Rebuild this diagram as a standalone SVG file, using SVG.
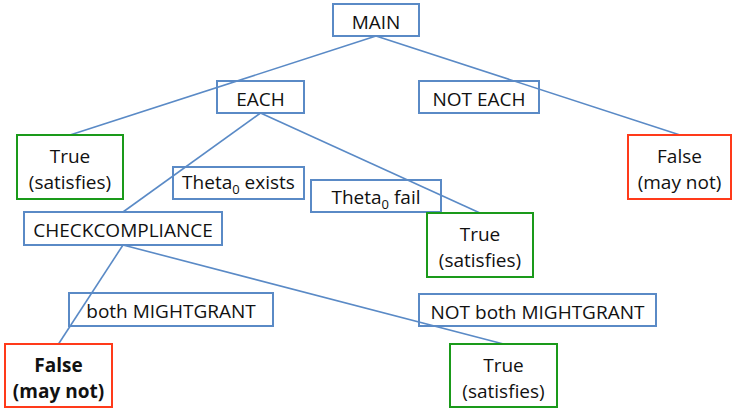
<svg xmlns="http://www.w3.org/2000/svg" width="732" height="410" viewBox="0 0 732 410">
  <style>
    .box { fill: none; stroke-width: 2; }
    .blue { stroke: #5a8ac6; }
    .green { stroke: #1a9a1a; }
    .red { stroke: #ff3a1a; }
    .edge { stroke: #5a8ac6; stroke-width: 1.6; fill: none; }
    text { font-family: "Open Sans", "Noto Sans", sans-serif; font-size: 19px; fill: #111; text-anchor: middle; }
    .bold { font-weight: bold; }
    .sub { font-size: 13px; }
  </style>
  <rect width="732" height="410" fill="#ffffff"/>

  <!-- connectors -->
  <g id="connectors">
    <line class="edge" x1="376" y1="36" x2="70" y2="135"/>
    <line class="edge" x1="376" y1="36" x2="680" y2="135"/>
    <line class="edge" x1="260.5" y1="113" x2="123" y2="212"/>
    <line class="edge" x1="260.5" y1="113" x2="480" y2="213"/>
    <line class="edge" x1="123" y1="245" x2="58.5" y2="344"/>
    <line class="edge" x1="123" y1="245" x2="503.5" y2="344"/>
  </g>

  <g id="main">
    <rect class="box blue" x="333" y="4" width="86" height="32"/>
    <text x="376" y="29">MAIN</text>
  </g>

  <g id="each">
    <rect class="box blue" x="217" y="81" width="87" height="32"/>
    <text x="260.5" y="106">EACH</text>
  </g>

  <g id="not-each">
    <rect class="box blue" x="419" y="81" width="120" height="32"/>
    <text x="479" y="106">NOT EACH</text>
  </g>

  <g id="true-each">
    <rect class="box green" x="17" y="135" width="106" height="64"/>
    <text x="70" y="163">True</text>
    <text x="70" y="189">(satisfies)</text>
  </g>

  <g id="false-not-each">
    <rect class="box red" x="628" y="135" width="103" height="64"/>
    <text x="679.5" y="163">False</text>
    <text x="679.5" y="189">(may not)</text>
  </g>

  <g id="theta-exists">
    <rect class="box blue" x="173" y="167" width="131" height="32"/>
    <text x="238.5" y="189">Theta<tspan class="sub" dy="5">0</tspan><tspan dy="-5"> exists</tspan></text>
  </g>

  <g id="theta-fail">
    <rect class="box blue" x="311" y="180" width="130" height="32"/>
    <text x="376" y="204">Theta<tspan class="sub" dy="5">0</tspan><tspan dy="-5"> fail</tspan></text>
  </g>

  <g id="checkcompliance">
    <rect class="box blue" x="24" y="212" width="198" height="33"/>
    <text x="123" y="237">CHECKCOMPLIANCE</text>
  </g>

  <g id="true-theta-fail">
    <rect class="box green" x="427" y="213" width="106" height="64"/>
    <text x="480" y="241">True</text>
    <text x="480" y="267">(satisfies)</text>
  </g>

  <g id="both-mightgrant">
    <rect class="box blue" x="69" y="293" width="204" height="33"/>
    <text x="171" y="318">both MIGHTGRANT</text>
  </g>

  <g id="not-both-mightgrant">
    <rect class="box blue" x="419" y="294" width="237" height="32"/>
    <text x="537.5" y="319">NOT both MIGHTGRANT</text>
  </g>

  <g id="false-mightgrant">
    <rect class="box red" x="5" y="344" width="107" height="63"/>
    <text class="bold" x="58.5" y="372">False</text>
    <text class="bold" x="58.5" y="398">(may not)</text>
  </g>

  <g id="true-not-mightgrant">
    <rect class="box green" x="450" y="344" width="107" height="63"/>
    <text x="503.5" y="372">True</text>
    <text x="503.5" y="398">(satisfies)</text>
  </g>
</svg>
